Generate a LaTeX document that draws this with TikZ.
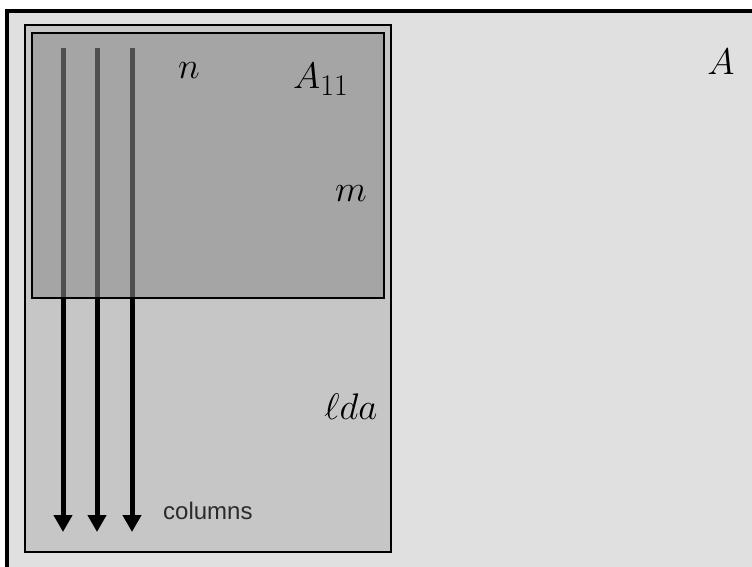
\RequirePackage{fix-cm}
\documentclass[tikz,border=0pt]{standalone}
\usepackage{fontspec}
\setsansfont{Liberation Sans}
\usetikzlibrary{arrows.meta}
\DeclareMathSizes{37}{37}{30}{22}

\definecolor{outerbg}{HTML}{DFE0DF}
\definecolor{ldafill}{HTML}{C6C6C6}

\begin{document}
\begin{tikzpicture}[
  x=1pt, y=-1pt,
  lbl/.style={font=\fontsize{37}{40}\selectfont, inner sep=0pt},
  frame/.style={draw, line width=2pt},
  arr/.style={line width=5pt, -{Triangle[length=17pt, width=18pt]}},
  blk/.style={frame, fill=black!45, fill opacity=0.57}
]
\useasboundingbox (0,0) rectangle (752,567);
% outer matrix A
\fill[white] (0,0) rectangle (752,567);
\draw[line width=4pt, fill=outerbg] (7,11) rectangle (770,590);
% leading dimension block
\draw[frame, fill=ldafill] (25,25) rectangle (391,552);
% column arrows
\foreach \i/\x in {1/63,2/97,3/132} {
  \coordinate (t\i) at (\x,48);
  \coordinate (b\i) at (\x,532);
  \draw[arr] (t\i) -- (b\i);
}
% submatrix A11
\draw[blk] (32,33) rectangle (384,298);
\node[lbl, anchor=base] (n) at (189,79) {$n$};
\node[lbl, anchor=base west] (a11) at (293,89) {$A_{11}$};
\node[lbl, anchor=base] (m) at (351,201) {$m$};
\node[lbl, anchor=base] (lda) at (351,419) {$\ell da$};
\node[lbl, anchor=base] (a) at (721,75) {$A$};
\node[font=\sffamily\fontsize{24}{26}\selectfont, text=black!83, inner sep=0pt, anchor=base west] (cols) at (163,519) {columns};
\end{tikzpicture}
\end{document}
